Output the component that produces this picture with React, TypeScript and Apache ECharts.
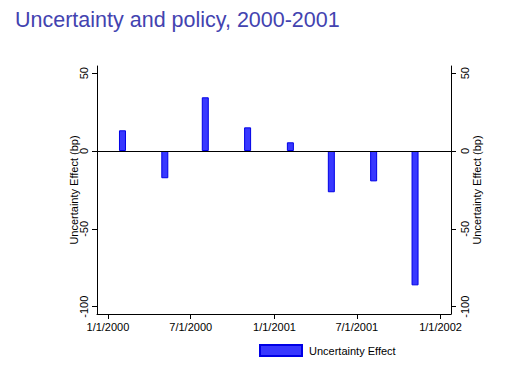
import React, { useEffect, useRef } from "react";
import * as echarts from "echarts";

const TITLE = "Uncertainty and policy, 2000-2001";
const Y_NAME = "Uncertainty Effect (bp)";
const SERIES_NAME = "Uncertainty Effect";
const dates = [
  "2000-02-02", "2000-05-05", "2000-08-02", "2000-11-03",
  "2001-02-05", "2001-05-06", "2001-08-07", "2001-11-06",
];
const values = [13.3, -17.5, 34.5, 15.2, 5.6, -26.5, -19.5, -86.3];
const yTicks = [-100, -50, 0, 50];
const xTickDates = ["2000-01-01", "2000-07-01", "2001-01-01", "2001-07-01", "2002-01-01"];
const xMinDate = "1999-12-08";
const xMaxDate = "2002-01-24";
const yMin = -104.7;
const yMax = 54.6;

const toTs = (s: string) => {
  const [y, m, d] = s.split("-").map(Number);
  return Date.UTC(y, m - 1, d);
};

const FONT = "'Liberation Sans', Arial, Helvetica, sans-serif";

export default function App() {
  const ref = useRef<HTMLDivElement>(null);
  useEffect(() => {
    document.body.style.margin = "0";
    if (!ref.current) return;
    const chart = echarts.init(ref.current, undefined, { renderer: "svg" });
    const yAxisCommon = (pos: "left" | "right") => ({
      type: "value" as const,
      position: pos,
      min: yMin,
      max: yMax,
      name: Y_NAME,
      nameLocation: "middle" as const,
      nameGap: pos === "left" ? 18 : 20,
      nameMoveOverlap: false,
      nameRotate: 90,
      nameTextStyle: { color: "#000", fontSize: 11, fontFamily: FONT },
      splitLine: { show: false },
      axisLine: { show: true, onZero: false, lineStyle: { color: "#000", width: 1 } },
      axisTick: { show: true, customValues: yTicks, length: 5, lineStyle: { color: "#000" } },
      axisLabel: {
        show: true,
        customValues: yTicks,
        rotate: 90,
        margin: 8,
        color: "#000",
        fontSize: 11,
        fontFamily: FONT,
      },
    });
    const xTicks = xTickDates.map(toTs);
    chart.setOption({
      animation: false,
      backgroundColor: "#fff",
      title: {
        text: TITLE,
        left: 15,
        top: 9,
        padding: 0,
        textStyle: { color: "#4343b0", fontSize: 21.5, fontWeight: "normal", fontFamily: FONT },
      },
      grid: { left: 97, right: 55, top: 66, bottom: 65, containLabel: false },
      legend: {
        left: 259,
        top: 344,
        padding: 0,
        itemWidth: 42,
        itemHeight: 11,
        icon: "rect",
        data: [SERIES_NAME],
        textStyle: { color: "#000", fontSize: 11, fontFamily: FONT, padding: [0, 0, 0, 2] },
      },
      xAxis: {
        type: "value",
        min: toTs(xMinDate),
        max: toTs(xMaxDate),
        splitLine: { show: false },
        axisLine: { show: true, onZero: false, lineStyle: { color: "#000", width: 1 } },
        axisTick: {
          show: true,
          customValues: xTicks,
          length: 5,
          lineStyle: { color: "#000" },
        },
        axisLabel: {
          show: true,
          customValues: xTicks,
          margin: 7,
          color: "#000",
          fontSize: 11,
          fontFamily: FONT,
          formatter: (v: number) => {
            const d = new Date(v);
            return `${d.getUTCMonth() + 1}/${d.getUTCDate()}/${d.getUTCFullYear()}`;
          },
        },
      },
      yAxis: [yAxisCommon("left"), yAxisCommon("right")],
      series: [
        {
          name: SERIES_NAME,
          type: "bar",
          yAxisIndex: 0,
          barWidth: 7,
          data: dates.map((d, i) => [toTs(d), values[i]]),
          itemStyle: { color: "#3838ff", borderColor: "#0000e6", borderWidth: 1 },
          markLine: {
            silent: true,
            symbol: ["none", "none"],
            label: { show: false },
            lineStyle: { color: "#000", width: 1, type: "solid" },
            data: [{ yAxis: 0 }],
          },
        },
      ],
    });
    return () => chart.dispose();
  }, []);
  return <div ref={ref} style={{ width: 506, height: 379 }} />;
}
